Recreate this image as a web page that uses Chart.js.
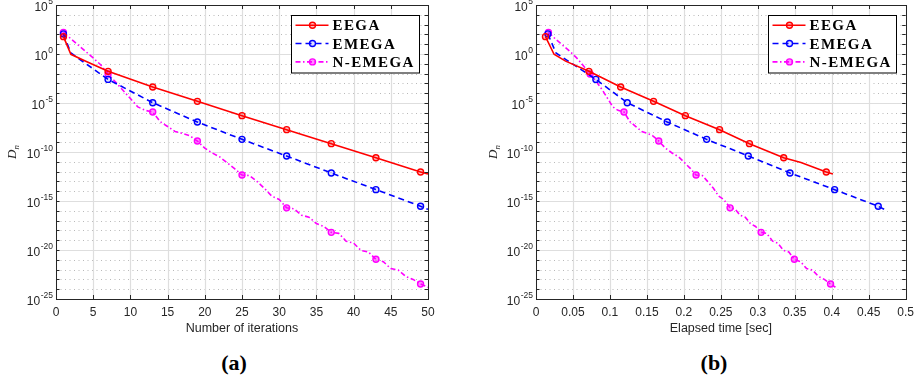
<!DOCTYPE html>
<html>
<head>
<meta charset="utf-8">
<script src="https://cdn.jsdelivr.net/npm/chart.js@4.4.0/dist/chart.umd.min.js"></script>
<style>
  body { margin: 0; background: #fff; width: 920px; height: 385px; overflow: hidden; position: relative; }
  .panel { position: absolute; top: 0; width: 460px; height: 345px; }
  .cap { position: absolute; top: 350px; line-height: 24px; font: bold 22px 'Liberation Serif', 'Times New Roman', serif; color: #000; transform: translateX(-50%); }
</style>
</head>
<body>
<div class="panel" style="left:0"><canvas id="iterChart" width="460" height="345"></canvas></div>
<div class="panel" style="left:460px"><canvas id="timeChart" width="460" height="345"></canvas></div>
<div class="cap" style="left:234px">(a)</div>
<div class="cap" style="left:714px">(b)</div>
<script>
// EEGA: iteration, log10(D_n), elapsed time (s)
const eegaIter = [1, 2, 4, 7, 13, 19, 25, 31, 37, 43, 45, 49, 50];
const eegaLogD = [1.77, -0.03, -0.73, -1.77, -3.37, -4.83, -6.29, -7.72, -9.15, -10.58, -11.07, -12.04, -12.24];
const eegaTime = [0.0128, 0.0244, 0.0400, 0.0716, 0.1145, 0.1590, 0.2020, 0.2483, 0.2887, 0.3350, 0.3584, 0.3926, 0.4016];

// EMEGA
const emegaIter = [1, 2, 7, 13, 19, 25, 31, 37, 43, 49, 50];
const emegaLogD = [2.05, 0.1, -2.59, -4.97, -6.94, -8.71, -10.41, -12.14, -13.84, -15.54, -15.85];
const emegaTime = [0.0161, 0.0270, 0.0810, 0.1234, 0.1775, 0.2308, 0.2871, 0.3435, 0.4039, 0.4629, 0.4709];

// N-EMEGA
const nemegaIter = [1, 2, 3, 4, 5, 6, 7, 8, 9, 10, 11, 12, 13, 14, 15, 16, 17, 18, 19, 20, 21, 22, 23, 24, 25,
  26, 27, 28, 29, 30, 31, 32, 33, 34, 35, 36, 37, 38, 39, 40, 41, 42, 43, 44, 45, 46, 47, 48, 49, 50];
const nemegaLogD = [2.21, 1.55, 0.9, 0.25, -0.4, -1.1, -2.04, -2.85, -3.7, -4.55, -5.4, -5.75, -5.92, -6.9, -7.4,
  -7.9, -8.1, -8.35, -8.88, -9.6, -10.1, -10.5, -11.1, -11.7, -12.35, -12.4, -13.0, -13.7, -14.5, -14.85,
  -15.7, -15.8, -16.45, -16.65, -17.3, -17.6, -18.2, -18.3, -19.1, -19.3, -20.05, -20.2, -20.95, -21.2,
  -21.9, -22.05, -22.7, -23.0, -23.47, -23.8];
const nemegaTime = [0.0168, 0.026, 0.036, 0.046, 0.055, 0.063, 0.0732, 0.082, 0.090, 0.097, 0.104, 0.111, 0.119,
  0.127, 0.135, 0.143, 0.151, 0.158, 0.166, 0.175, 0.184, 0.193, 0.201, 0.209, 0.2165, 0.225, 0.232, 0.240,
  0.247, 0.254, 0.2625, 0.269, 0.276, 0.283, 0.290, 0.297, 0.3045, 0.312, 0.320, 0.327, 0.335, 0.342, 0.3494,
  0.358, 0.366, 0.374, 0.382, 0.390, 0.3984, 0.405];

const yTickExp = [5, 0, -5, -10, -15, -20, -25];
const AXIS = '#262626';

function series(label, xs, logD, iters, color, dash, fill) {
  return {
    label: label,
    data: xs.map((v, i) => ({ x: v, y: Math.pow(10, logD[i]) })),
    borderColor: color,
    borderWidth: 1.6,
    borderDash: dash,
    pointRadius: iters.map(k => (k % 6 === 1 ? 3 : 0)),
    pointBorderWidth: 1.4,
    pointBackgroundColor: fill,
    pointBorderColor: color,
    pointHoverRadius: 0,
    tension: 0
  };
}

// grid, box, ticks, legend and the 10^k labels, in the style of the original figure
const matlabAxes = {
  id: 'matlabAxes',
  beforeDatasetsDraw(chart) {
    const { ctx, chartArea: a, scales: { x, y } } = chart;
    ctx.save();
    for (let e = -25; e <= 5; e++) {
      const py = Math.round(y.getPixelForValue(Math.pow(10, e))) + 0.5;
      ctx.beginPath();
      if (e % 5 === 0) {
        ctx.setLineDash([]); ctx.strokeStyle = '#dedede'; ctx.lineWidth = 1.2;
      } else {
        ctx.setLineDash([1, 3.5]); ctx.strokeStyle = '#b9b9b9'; ctx.lineWidth = 1;
      }
      ctx.moveTo(a.left, py); ctx.lineTo(a.right, py); ctx.stroke();
    }
    ctx.setLineDash([]); ctx.strokeStyle = '#dedede'; ctx.lineWidth = 1.2;
    x.ticks.forEach(t => {
      const px = Math.round(x.getPixelForValue(t.value)) + 0.5;
      ctx.beginPath(); ctx.moveTo(px, a.top); ctx.lineTo(px, a.bottom); ctx.stroke();
    });
    ctx.restore();
  },
  afterDatasetsDraw(chart) {
    const { ctx, chartArea: a, scales: { x, y } } = chart;
    ctx.save();
    ctx.strokeStyle = AXIS; ctx.lineWidth = 1; ctx.setLineDash([]);
    ctx.strokeRect(Math.round(a.left) + 0.5, Math.round(a.top) + 0.5, Math.round(a.right - a.left), Math.round(a.bottom - a.top));
    ctx.beginPath();
    x.ticks.forEach(t => {
      const px = Math.round(x.getPixelForValue(t.value)) + 0.5;
      ctx.moveTo(px, a.bottom); ctx.lineTo(px, a.bottom - 4);
      ctx.moveTo(px, a.top); ctx.lineTo(px, a.top + 4);
    });
    for (let e = -25; e <= 5; e++) {
      const py = Math.round(y.getPixelForValue(Math.pow(10, e))) + 0.5;
      ctx.moveTo(a.left, py); ctx.lineTo(a.left + 3.5, py);
      ctx.moveTo(a.right, py); ctx.lineTo(a.right - 3.5, py);
    }
    ctx.stroke();

    // legend
    const w = 128, h = 57.5;
    const lx = Math.round(a.right - 9.5 - w) + 0.5, ly = Math.round(a.top + 9.5) + 0.5;
    ctx.fillStyle = '#fff'; ctx.fillRect(lx, ly, w, h);
    ctx.strokeStyle = '#000'; ctx.lineWidth = 1; ctx.strokeRect(lx, ly, w, h);
    chart.data.datasets.forEach((ds, i) => {
      const cy = ly + 9.7 + i * 18.35;
      ctx.strokeStyle = ds.borderColor; ctx.lineWidth = ds.borderWidth;
      ctx.setLineDash(ds.borderDash || []);
      ctx.beginPath(); ctx.moveTo(lx + 4, cy); ctx.lineTo(lx + 37, cy); ctx.stroke();
      ctx.setLineDash([]); ctx.lineWidth = ds.pointBorderWidth;
      ctx.fillStyle = ds.pointBackgroundColor;
      ctx.beginPath(); ctx.arc(lx + 21, cy, 3, 0, Math.PI * 2); ctx.fill(); ctx.stroke();
      ctx.fillStyle = '#000';
      ctx.font = "bold 15px 'Liberation Serif', 'Times New Roman', serif";
      ctx.letterSpacing = '1.4px';
      ctx.textAlign = 'left'; ctx.textBaseline = 'alphabetic';
      ctx.fillText(ds.label, lx + 41, cy + 5);
      ctx.letterSpacing = '0px';
    });
    ctx.restore();
  },
  afterDraw(chart) {
    const { ctx, chartArea: a, scales: { y } } = chart;
    ctx.save();
    ctx.fillStyle = AXIS;
    ctx.textBaseline = 'alphabetic';
    yTickExp.forEach(e => {
      const py = y.getPixelForValue(Math.pow(10, e));
      const sup = String(e);
      ctx.font = "8.5px 'Liberation Sans', Arial, sans-serif";
      const sw = ctx.measureText(sup).width;
      ctx.textAlign = 'left';
      ctx.fillText(sup, a.left - 3 - sw, py - 1.3);
      ctx.font = "12px 'Liberation Sans', Arial, sans-serif";
      ctx.textAlign = 'right';
      ctx.fillText('10', a.left - 3.5 - sw, py + 6);
    });
    // y label D_n
    const lxPos = chart.options.yLabelX;
    ctx.translate(lxPos, (a.top + a.bottom) / 2);
    ctx.rotate(-Math.PI / 2);
    ctx.font = "italic 13px 'Liberation Serif', 'Times New Roman', serif";
    const dw = ctx.measureText('D').width;
    ctx.font = "italic 9px 'Liberation Serif', 'Times New Roman', serif";
    const nw = ctx.measureText('n').width;
    const x0 = -(dw + nw) / 2;
    ctx.textAlign = 'left';
    ctx.font = "italic 13px 'Liberation Serif', 'Times New Roman', serif";
    ctx.fillText('D', x0, 4);
    ctx.font = "italic 9px 'Liberation Serif', 'Times New Roman', serif";
    ctx.fillText('n', x0 + dw, 7);
    ctx.restore();
  }
};

function makeChart(canvas, datasets, xMax, xStep, xTitle, pad, yLabelX) {
  return new Chart(canvas, {
    type: 'line',
    data: { datasets: datasets },
    options: {
      responsive: false,
      animation: false,
      yLabelX: yLabelX,
      layout: { padding: pad },
      plugins: { legend: { display: false }, tooltip: { enabled: false } },
      scales: {
        x: {
          type: 'linear', min: 0, max: xMax,
          ticks: {
            stepSize: xStep, padding: 6, color: AXIS,
            font: { family: "'Liberation Sans', Arial, sans-serif", size: 12 },
            callback: v => String(Math.round(v * 1000) / 1000)
          },
          grid: { display: false, drawTicks: false },
          border: { display: false },
          title: { display: true, text: xTitle, color: AXIS, padding: { top: 0, bottom: 3 },
                   font: { family: "'Liberation Sans', Arial, sans-serif", size: 12.5 } },
          afterFit(s) { s.height = 40; }
        },
        y: {
          type: 'logarithmic', min: 1e-25, max: 1e5,
          ticks: { display: false },
          grid: { display: false, drawTicks: false },
          border: { display: false },
          afterFit(s) { s.width = 56; }
        }
      }
    },
    plugins: [matlabAxes]
  });
}

const iterSets = [
  series('EEGA', eegaIter, eegaLogD, eegaIter, '#ff0000', [], 'rgba(255,0,0,0.25)'),
  series('EMEGA', emegaIter, emegaLogD, emegaIter, '#0000ff', [6, 4], 'rgba(0,0,255,0.12)'),
  series('N-EMEGA', nemegaIter, nemegaLogD, nemegaIter, '#ff00ff', [5, 2.5, 1.5, 2.5], 'rgba(255,0,255,0.45)')
];
const timeSets = [
  series('EEGA', eegaTime, eegaLogD, eegaIter, '#ff0000', [], 'rgba(255,0,0,0.25)'),
  series('EMEGA', emegaTime, emegaLogD, emegaIter, '#0000ff', [6, 4], 'rgba(0,0,255,0.12)'),
  series('N-EMEGA', nemegaTime, nemegaLogD, nemegaIter, '#ff00ff', [5, 2.5, 1.5, 2.5], 'rgba(255,0,255,0.45)')
];

makeChart(document.getElementById('iterChart'), iterSets, 50, 5, 'Number of iterations',
  { left: 0, right: 32, top: 5, bottom: 6 }, 12);
makeChart(document.getElementById('timeChart'), timeSets, 0.5, 0.05, 'Elapsed time [sec]',
  { left: 20, right: 11, top: 5, bottom: 6 }, 33);
</script>
</body>
</html>
